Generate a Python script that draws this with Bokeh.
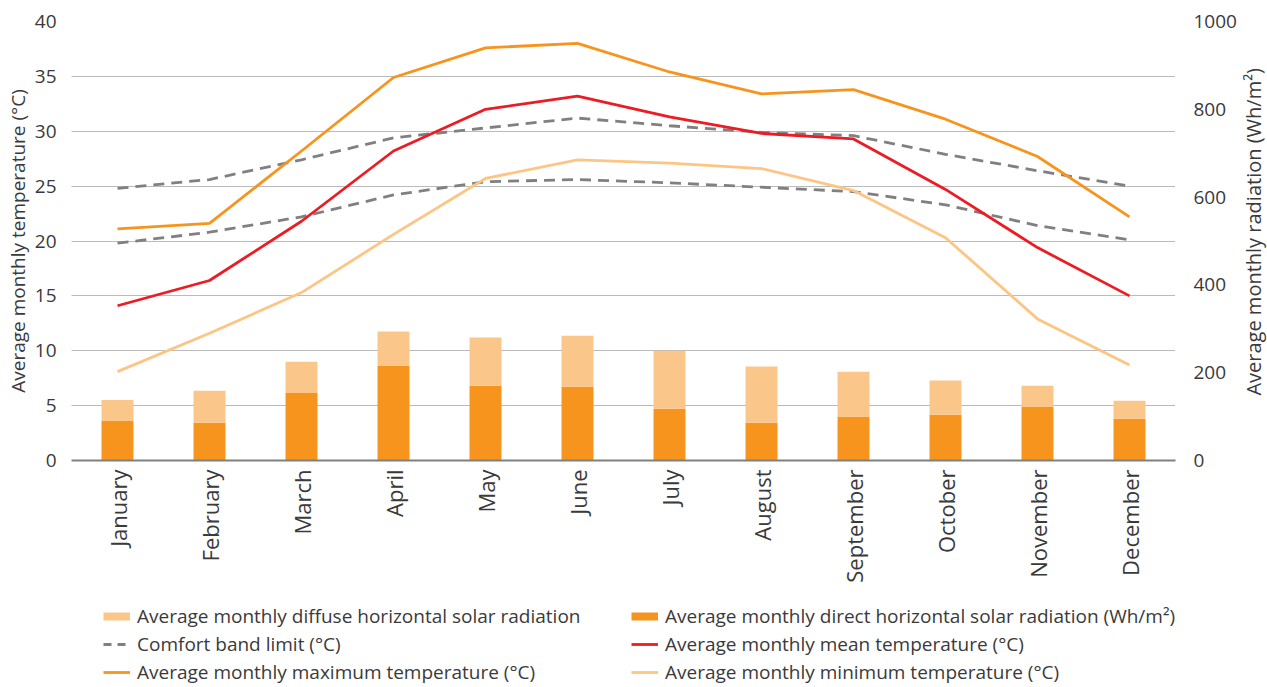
import math
from bokeh.plotting import figure
from bokeh.layouts import row, column
from bokeh.models import (Range1d, LinearAxis, FixedTicker, Legend, LegendItem,
                          ColumnDataSource)
from bokeh.core.properties import value
from bokeh.embed import file_html
from bokeh.resources import INLINE

# ---------------- data ----------------
months = ["January", "February", "March", "April", "May", "June", "July",
          "August", "September", "October", "November", "December"]
t_max = [21.1, 21.6, 28.2, 34.9, 37.6, 38.0, 35.4, 33.4, 33.8, 31.1, 27.7, 22.2]
t_mean = [14.1, 16.4, 21.8, 28.2, 32.0, 33.2, 31.3, 29.8, 29.3, 24.7, 19.4, 15.0]
t_min = [8.1, 11.6, 15.3, 20.6, 25.7, 27.4, 27.1, 26.6, 24.6, 20.3, 12.9, 8.7]
comfort_upper = [24.8, 25.6, 27.4, 29.4, 30.3, 31.2, 30.5, 29.9, 29.6, 27.9, 26.4, 25.0]
comfort_lower = [19.8, 20.8, 22.2, 24.2, 25.4, 25.6, 25.3, 24.9, 24.5, 23.3, 21.4, 20.1]
rad_direct = [90, 86, 154, 216, 170, 168, 118, 86, 100, 104, 122, 95]
rad_diffuse = [48, 73, 71, 78, 110, 116, 132, 128, 102, 78, 48, 41]

temp_ticks = [0, 5, 10, 15, 20, 25, 30, 35, 40]
rad_ticks = [0, 200, 400, 600, 800, 1000]
left_title = "Average monthly temperature (°C)"
right_title = "Average monthly radiation (Wh/m²)"
legend_col1 = ["Average monthly diffuse horizontal solar radiation",
               "Comfort band limit (°C)",
               "Average monthly maximum temperature (°C)"]
legend_col2 = ["Average monthly direct horizontal solar radiation (Wh/m²)",
               "Average monthly mean temperature (°C)",
               "Average monthly minimum temperature (°C)"]

# ---------------- style ----------------
FONT = "Open Sans"
ORANGE = "#F7941D"
LIGHT = "#FBC68A"
RED = "#ED1C24"
MINC = "#FDC584"
GREY = "#808080"
TXT = "#3a3a3a"
LW = 2.8
DASH = "11 7"
NAN = float("nan")

W, H = 1267, 687
W_LAB = 28
H_MAIN = 595
H_LEG = H - H_MAIN

p = figure(width=W - W_LAB, height=H_MAIN, x_range=months, y_range=Range1d(0, 40),
           output_backend="svg", toolbar_location=None,
           min_border_left=71, min_border_right=62, min_border_top=21,
           min_border_bottom=H_MAIN - 460)
p.extra_y_ranges = {"rad": Range1d(0, 1000)}
p.outline_line_color = None
p.background_fill_color = None

src = ColumnDataSource(dict(month=months, direct=rad_direct, diffuse=rad_diffuse))
p.vbar_stack(["direct", "diffuse"], x="month", width=0.347,
             fill_color=[ORANGE, LIGHT], line_color=None,
             source=src, y_range_name="rad")

p.line(months, comfort_upper, line_color=GREY, line_width=LW, line_dash=DASH)
p.line(months, comfort_lower, line_color=GREY, line_width=LW, line_dash=DASH)
p.line(months, t_min, line_color=MINC, line_width=LW)
p.line(months, t_mean, line_color=RED, line_width=LW)
p.line(months, t_max, line_color=ORANGE, line_width=LW)

# grid
p.xgrid.grid_line_color = None
p.ygrid.grid_line_color = "#777777"
p.ygrid.grid_line_dash = "1 1"
p.ygrid.grid_line_width = 1
p.ygrid.ticker = FixedTicker(ticks=temp_ticks)

# x axis
xa = p.xaxis[0]
xa.axis_line_color = GREY
xa.axis_line_width = 2
xa.major_tick_line_color = None
xa.minor_tick_line_color = None
xa.major_label_orientation = math.pi / 2
xa.major_label_standoff = 3
xa.major_label_text_font = FONT
xa.major_label_text_font_size = "22px"
xa.major_label_text_color = TXT

# left axis
ya = p.yaxis[0]
ya.ticker = FixedTicker(ticks=temp_ticks)
ya.axis_line_color = None
ya.major_tick_line_color = None
ya.minor_tick_line_color = None
ya.major_label_standoff = 9
ya.major_label_text_font = FONT
ya.major_label_text_font_size = "19px"
ya.major_label_text_color = TXT
ya.axis_label = left_title
ya.axis_label_text_font = FONT
ya.axis_label_text_font_size = "19px"
ya.axis_label_text_font_style = "normal"
ya.axis_label_text_color = TXT
ya.axis_label_standoff = 1

# right axis (its title is drawn in the side strip)
ra = LinearAxis(y_range_name="rad", ticker=FixedTicker(ticks=rad_ticks))
ra.axis_line_color = None
ra.major_tick_line_color = None
ra.minor_tick_line_color = None
ra.major_label_standoff = 12
ra.major_label_text_font = FONT
ra.major_label_text_font_size = "19px"
ra.major_label_text_color = TXT
p.add_layout(ra, "right")

# side strip with right axis title, reading bottom-to-top
lab = figure(width=W_LAB, height=H_MAIN, x_range=Range1d(0, W_LAB), y_range=Range1d(0, H_MAIN),
             output_backend="svg", toolbar_location=None,
             x_axis_type=None, y_axis_type=None,
             min_border_left=0, min_border_right=0, min_border_top=0, min_border_bottom=0)
lab.outline_line_color = None
lab.grid.grid_line_color = None
lab.text(x=[W_LAB / 2], y=[H_MAIN - 285], text=[right_title], angle=math.pi / 2,
         text_align="center", text_baseline="middle",
         text_font=value(FONT), text_font_size="20px", text_color=TXT)

# legend strip (proxy renderers carry the legend styles; they draw nothing)
lg = figure(width=W, height=H_LEG, x_range=Range1d(0, W), y_range=Range1d(0, H_LEG),
            output_backend="svg", toolbar_location=None,
            x_axis_type=None, y_axis_type=None,
            min_border_left=0, min_border_right=0, min_border_top=0, min_border_bottom=0)
lg.outline_line_color = None
lg.grid.grid_line_color = None
g_diff = lg.line(x=[NAN], y=[NAN], line_color=LIGHT, line_width=8)
g_dir = lg.line(x=[NAN], y=[NAN], line_color=ORANGE, line_width=8)
g_cmf = lg.line(x=[NAN], y=[NAN], line_color=GREY, line_width=LW, line_dash="8 6")
g_mean = lg.line(x=[NAN], y=[NAN], line_color=RED, line_width=LW)
g_max = lg.line(x=[NAN], y=[NAN], line_color=ORANGE, line_width=LW)
g_min = lg.line(x=[NAN], y=[NAN], line_color=MINC, line_width=LW)


def make_legend(labels, rends, loc):
    return Legend(items=[LegendItem(label=t, renderers=[r]) for t, r in zip(labels, rends)],
                  location=loc, orientation="vertical",
                  border_line_color=None, background_fill_alpha=0,
                  padding=0, margin=0, spacing=2,
                  label_height=20, glyph_height=20, glyph_width=27,
                  label_standoff=7, label_text_font=FONT,
                  label_text_font_size="19px", label_text_color=TXT)


lg.add_layout(make_legend(legend_col1, [g_diff, g_cmf, g_max], (103, 2)))
lg.add_layout(make_legend(legend_col2, [g_dir, g_mean, g_min], (631, 2)))

layout = column(row(p, lab), lg)
open("out.html", "w").write(file_html(layout, INLINE))
